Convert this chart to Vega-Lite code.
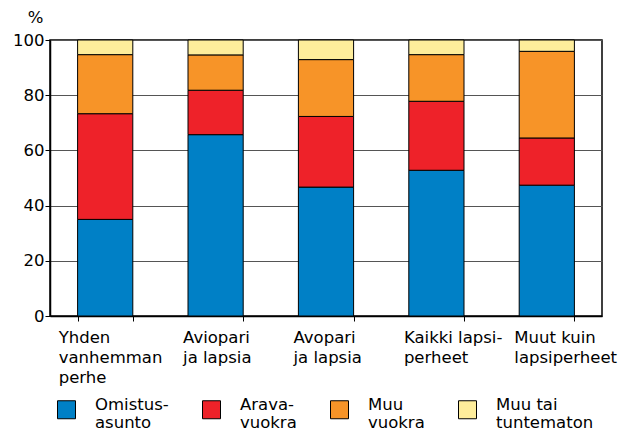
{
  "$schema": "https://vega.github.io/schema/vega-lite/v6.json",
  "width": 552,
  "height": 276,
  "autosize": {"type": "none"},
  "padding": {"left": 50, "top": 40, "right": 30, "bottom": 117},
  "background": "white",
  "config": {
    "font": "DejaVu Sans",
    "view": {"stroke": "#000", "strokeWidth": 1.5}
  },
  "data": {
    "values": [
      {"cat": "Yhden|vanhemman|perhe", "type": "Omistus-|asunto", "v": 35.0},
      {"cat": "Yhden|vanhemman|perhe", "type": "Arava-|vuokra", "v": 38.3},
      {"cat": "Yhden|vanhemman|perhe", "type": "Muu|vuokra", "v": 21.4},
      {"cat": "Yhden|vanhemman|perhe", "type": "Muu tai|tuntematon", "v": 5.3},
      {"cat": "Aviopari|ja lapsia", "type": "Omistus-|asunto", "v": 65.7},
      {"cat": "Aviopari|ja lapsia", "type": "Arava-|vuokra", "v": 16.1},
      {"cat": "Aviopari|ja lapsia", "type": "Muu|vuokra", "v": 12.8},
      {"cat": "Aviopari|ja lapsia", "type": "Muu tai|tuntematon", "v": 5.4},
      {"cat": "Avopari|ja lapsia", "type": "Omistus-|asunto", "v": 46.7},
      {"cat": "Avopari|ja lapsia", "type": "Arava-|vuokra", "v": 25.6},
      {"cat": "Avopari|ja lapsia", "type": "Muu|vuokra", "v": 20.6},
      {"cat": "Avopari|ja lapsia", "type": "Muu tai|tuntematon", "v": 7.1},
      {"cat": "Kaikki lapsi-|perheet", "type": "Omistus-|asunto", "v": 52.8},
      {"cat": "Kaikki lapsi-|perheet", "type": "Arava-|vuokra", "v": 25.0},
      {"cat": "Kaikki lapsi-|perheet", "type": "Muu|vuokra", "v": 16.9},
      {"cat": "Kaikki lapsi-|perheet", "type": "Muu tai|tuntematon", "v": 5.3},
      {"cat": "Muut kuin|lapsiperheet", "type": "Omistus-|asunto", "v": 47.4},
      {"cat": "Muut kuin|lapsiperheet", "type": "Arava-|vuokra", "v": 17.1},
      {"cat": "Muut kuin|lapsiperheet", "type": "Muu|vuokra", "v": 31.4},
      {"cat": "Muut kuin|lapsiperheet", "type": "Muu tai|tuntematon", "v": 4.1}
    ]
  },
  "transform": [
    {"calculate": "indexof(['Omistus-|asunto','Arava-|vuokra','Muu|vuokra','Muu tai|tuntematon'], datum.type)", "as": "ord"}
  ],
  "mark": {"type": "bar", "stroke": "#000", "strokeWidth": 1},
  "encoding": {
    "x": {
      "field": "cat",
      "type": "nominal",
      "sort": null,
      "scale": {"paddingInner": 0.5, "paddingOuter": 0.25},
      "axis": {
        "title": null,
        "labelAngle": 0,
        "labelAlign": "left",
        "labelBaseline": "top",
        "labelExpr": "split(datum.label, '|')",
        "labelFontSize": 16.5,
        "labelLineHeight": 20,
        "labelPadding": 8.5,
        "labelOffset": {"condition": {"test": "datum.value == 'Yhden|vanhemman|perhe'", "value": -47}, "value": -33},
        "tickBand": "extent",
        "tickSize": 5,
        "tickColor": "#000",
        "domainColor": "#000",
        "domainWidth": 1.5,
        "labelColor": "#000",
        "labelLimit": 300,
        "labelOverlap": false,
        "labelBound": false,
        "labelFlush": false
      }
    },
    "y": {
      "field": "v",
      "type": "quantitative",
      "stack": "zero",
      "scale": {"domain": [0, 100]},
      "axis": {
        "title": "%",
        "titleAngle": 0,
        "titleX": -15,
        "titleY": -18,
        "titleAlign": "center",
        "titleBaseline": "alphabetic",
        "titleFontWeight": "normal",
        "titleFontSize": 16.5,
        "titleColor": "#000",
        "values": [0, 20, 40, 60, 80, 100],
        "labelFontSize": 16.5,
        "labelPadding": 1,
        "labelColor": "#000",
        "tickSize": 5,
        "tickColor": "#000",
        "domainColor": "#000",
        "domainWidth": 1.5,
        "grid": true,
        "gridColor": "#555",
        "gridWidth": 1
      }
    },
    "color": {
      "field": "type",
      "type": "nominal",
      "sort": ["Omistus-|asunto", "Arava-|vuokra", "Muu|vuokra", "Muu tai|tuntematon"],
      "scale": {
        "domain": ["Omistus-|asunto", "Arava-|vuokra", "Muu|vuokra", "Muu tai|tuntematon"],
        "range": ["#0080C6", "#EE2229", "#F79428", "#FEED9B"]
      },
      "legend": {
        "orient": "none",
        "legendX": 7,
        "legendY": 360,
        "direction": "horizontal",
        "columns": 4,
        "title": null,
        "symbolType": "square",
        "symbolSize": 324,
        "symbolStrokeColor": "#000",
        "symbolStrokeWidth": 1,
        "symbolOpacity": 1,
        "labelExpr": "split(datum.label, '|')",
        "labelFontSize": 16.5,
        "labelLineHeight": 22,
        "labelBaseline": "alphabetic",
        "labelOffset": 19,
        "labelLimit": 300,
        "labelColor": "#000",
        "columnPadding": 31,
        "padding": 0
      }
    },
    "order": {"field": "ord", "type": "quantitative"}
  }
}
